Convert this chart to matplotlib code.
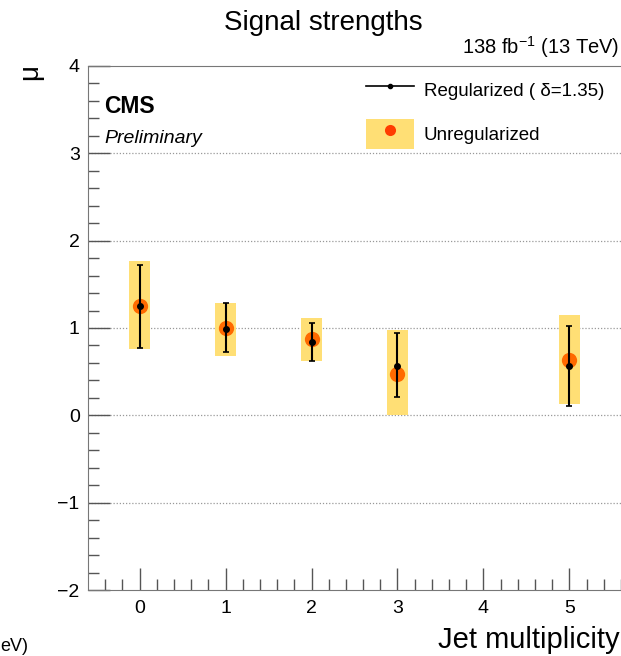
import numpy as np
import matplotlib
matplotlib.use('Agg')
import matplotlib.pyplot as plt
from matplotlib.lines import Line2D
from matplotlib.patches import Patch

plt.rcParams['font.family'] = ['Liberation Sans', 'DejaVu Sans']
plt.rcParams['mathtext.fontset'] = 'custom'
plt.rcParams['mathtext.rm'] = 'Liberation Sans'

# jet multiplicity bins
njet = [0, 1, 2, 3, 5]

# regularized fit (delta = 1.35)
reg = [1.25, 0.99, 0.84, 0.57, 0.57]
reg_lo = [0.77, 0.73, 0.62, 0.21, 0.11]
reg_hi = [1.72, 1.29, 1.06, 0.94, 1.02]

# unregularized fit
unreg = [1.25, 1.00, 0.87, 0.47, 0.63]
unreg_lo = [0.76, 0.68, 0.62, 0.00, 0.13]
unreg_hi = [1.77, 1.29, 1.12, 0.98, 1.15]

fig = plt.figure(figsize=(6.21, 6.56), dpi=100)
ax = fig.add_axes([0.1417, 0.1006, 0.8583, 0.7988])

box_w = 0.24
box_col = '#ffdf75'
for x, lo, hi in zip(njet, unreg_lo, unreg_hi):
    ax.bar(x, hi - lo, bottom=lo, width=box_w, color=box_col, edgecolor='none', zorder=2)
ax.plot(njet, unreg, 'o', color='#ff6a00', ms=11, mec='none', zorder=3)

reg = np.array(reg)
yerr = [reg - np.array(reg_lo), np.array(reg_hi) - reg]
ax.errorbar(njet, reg, yerr=yerr, fmt='o', color='black', ms=4, lw=1.5,
            capsize=2, capthick=1.2, zorder=4)

ax.set_xlim(-0.6, 5.6)
ax.set_ylim(-2, 4)
ax.set_xticks(range(0, 6))
ax.set_xticks(np.arange(-0.4, 5.61, 0.2), minor=True)
ax.set_yticks(range(-2, 5))
ax.set_yticks(np.arange(-2, 4.01, 0.2), minor=True)
ax.tick_params(which='both', direction='in', labelsize=14, color='#555555')
ax.tick_params(which='major', length=16, width=1)
ax.tick_params(which='minor', length=8, width=1)
ax.tick_params(axis='x', pad=7)
ax.tick_params(axis='y', pad=6)

for y in [-1, 0, 1, 2, 3]:
    ax.axhline(y, color='#999999', lw=0.9, ls=(0, (1, 1.5)), zorder=1)

for s in ['left', 'bottom', 'top']:
    ax.spines[s].set_color('#777777')
ax.spines['right'].set_visible(False)

ax.text(0.03, 0.945, 'CMS', transform=ax.transAxes, fontsize=16.5, fontweight='bold', va='top')
ax.text(0.03, 0.878, 'Preliminary', transform=ax.transAxes, fontsize=14, style='italic', va='top')

h_reg = Line2D([], [], color='black', lw=1.2, marker='o', ms=3)
h_box = Patch(facecolor=box_col, edgecolor='none')
h_dot = Line2D([], [], ls='none', marker='o', color='#ff3c00', ms=8, mec='none')
ax.legend([h_reg, (h_box, h_dot)], ['Regularized ( δ=1.35)', 'Unregularized'],
          loc='upper right', bbox_to_anchor=(1.0, 1.015), frameon=False, fontsize=13.5,
          handlelength=2.6, handleheight=2.1, labelspacing=0.75, handletextpad=0.5)

fig.text(0.52, 0.965, 'Signal strengths', ha='center', va='center', fontsize=20)
fig.text(0.998, 0.928, r'138 fb$^{-1}$ (13 TeV)', ha='right', va='center', fontsize=14.5)
fig.text(0.048, 0.89, 'μ', rotation=90, ha='center', va='center', fontsize=20)
fig.text(0.998, 0.025, 'Jet multiplicity', ha='right', va='center', fontsize=21)
fig.text(0.0, 0.001, 'eV)', ha='left', va='bottom', fontsize=13)

fig.savefig('out.png', dpi=100)
